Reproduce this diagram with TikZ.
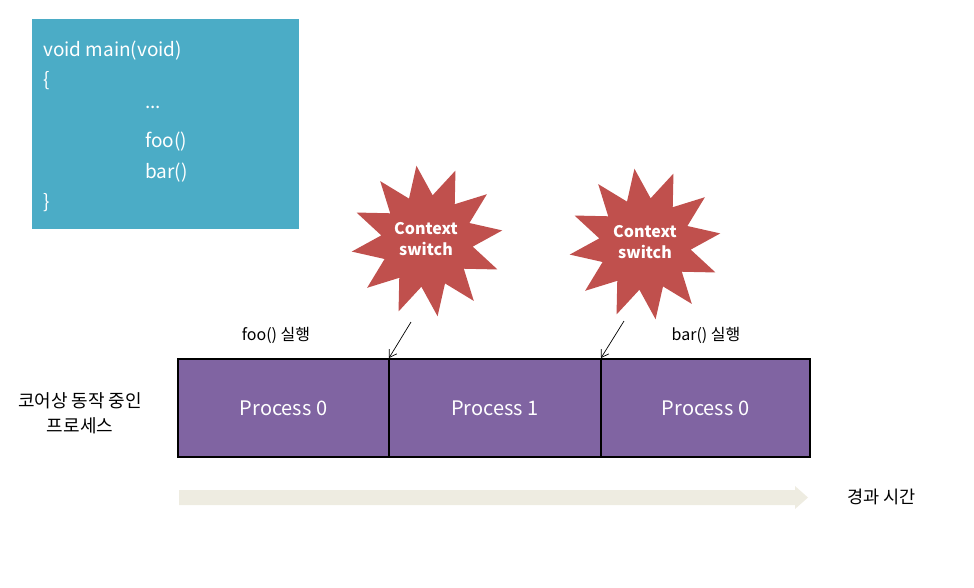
\documentclass[tikz,border=0pt]{standalone}
\usepackage{fontspec}
\setmainfont{Noto Sans CJK KR}
\usetikzlibrary{shapes.geometric,arrows.meta}
\definecolor{codebg}{HTML}{4BACC6}
\definecolor{procfill}{HTML}{8064A2}
\definecolor{starred}{HTML}{C0504D}
\definecolor{timeband}{HTML}{EEECE1}
\tikzset{
  codetxt/.style={anchor=base west, text=white, font=\fontsize{19}{22}\selectfont, inner sep=0pt},
  procbox/.style={draw=black, line width=2.8pt, fill=procfill, minimum height=98pt, text=white, font=\fontsize{20}{24}\selectfont, inner sep=0pt},
  burst/.style={star, star points=12, star point ratio=1.65, fill=starred, minimum size=152pt, inner sep=0pt},
  bursttxt/.style={text=white, align=center, font=\fontsize{16}{21}\selectfont, inner sep=0pt},
  lbl/.style={font=\fontsize{16}{19}\selectfont, text=black, align=center, inner sep=0pt},
  swarrow/.style={-{Straight Barb[length=7pt,width=9pt]}, line width=0.7pt}
}
\begin{document}
\begin{tikzpicture}[x=1pt,y=-1pt]
\useasboundingbox (0,0) rectangle (974,587);
% code box
\fill[codebg] (32,19) rectangle (299,229);
\node[codetxt] (l1) at (43,56) {void main(void)};
\node[codetxt] (l2) at (43,86) {\{};
\node[codetxt] (l3) at (145,108) {...};
\node[codetxt] (l4) at (145,147) {foo()};
\node[codetxt] (l5) at (145,178) {bar()};
\node[codetxt] (l6) at (43,208) {\}};
% process boxes
\node[procbox, minimum width=211pt] (p0) at (283.5,408) {Process 0};
\node[procbox, minimum width=212pt] (p1) at (495,408) {Process 1};
\node[procbox, minimum width=209pt] (p2) at (705.5,408) {Process 0};
% bursts
\node[burst, rotate=8] (s1) at (427,241) {};
\node[bursttxt] (t1) at (426,239) {\textbf{Context}\\\textbf{switch}};
\node[burst, rotate=8] (s2) at (645,244) {};
\node[bursttxt] (t2) at (645,242) {\textbf{Context}\\\textbf{switch}};
\coordinate (a1s) at (411,322);
\coordinate (a1e) at (389,358);
\coordinate (a2s) at (624,321);
\coordinate (a2e) at (601,358);
\draw[swarrow] (a1s) -- (a1e);
\draw[swarrow] (a2s) -- (a2e);
% labels
\node[lbl] (foo) at (276,335) {foo() 실행};
\node[lbl] (bar) at (706,335) {bar() 실행};
\node[lbl, align=center, font=\fontsize{18}{25}\selectfont] (core) at (80,413) {코어상 동작 중인\\프로세스};
% time arrow
\fill[timeband] (179,490) -- (795,490) -- (795,486) -- (808,497.5) -- (795,509) -- (795,505) -- (179,505) -- cycle;
\coordinate (ta) at (808,497.5);
\node[lbl, anchor=west, font=\fontsize{17.5}{20}\selectfont] (time) at (847,497) {경과 시간};
\end{tikzpicture}
\end{document}
